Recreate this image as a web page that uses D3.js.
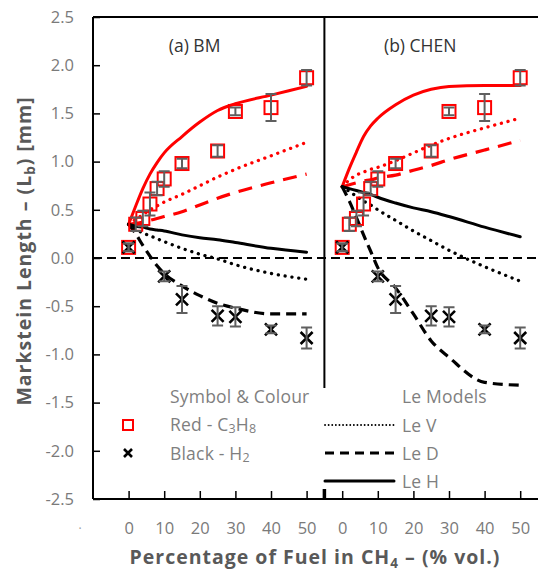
<!DOCTYPE html>
<html><head><meta charset="utf-8">
<script src="https://cdn.jsdelivr.net/npm/d3@7"></script>
<style>body{margin:0;background:#fff}</style>
</head><body><svg id="c" width="538" height="576"></svg>
<script>
// ---- data ----
const modelX = [0, 2, 4, 6, 8, 10, 15, 20, 25, 30, 40, 50];
// Panel (a) BM
const bmRedLeH   = [0.35, 0.54, 0.72, 0.87, 0.99, 1.09, 1.26, 1.41, 1.53, 1.60, 1.69, 1.78];
const bmRedLeV   = [0.35, 0.40, 0.45, 0.50, 0.54, 0.58, 0.66, 0.75, 0.84, 0.92, 1.06, 1.20];
const bmRedLeD   = [0.35, 0.36, 0.37, 0.39, 0.41, 0.43, 0.48, 0.55, 0.62, 0.68, 0.78, 0.87];
const bmBlackLeH = [0.35, 0.33, 0.32, 0.30, 0.29, 0.28, 0.24, 0.21, 0.19, 0.16, 0.10, 0.06];
const bmBlackLeV = [0.35, 0.30, 0.26, 0.23, 0.20, 0.17, 0.10, 0.04, -0.01, -0.07, -0.16, -0.22];
const bmBlackLeD = [0.35, 0.25, 0.13, 0.02, -0.08, -0.16, -0.29, -0.39, -0.47, -0.52, -0.58, -0.58];
// Panel (b) CHEN
const chRedLeH   = [0.74, 0.93, 1.10, 1.26, 1.37, 1.45, 1.59, 1.69, 1.75, 1.78, 1.79, 1.79];
const chRedLeV   = [0.74, 0.81, 0.86, 0.89, 0.92, 0.94, 1.01, 1.09, 1.17, 1.24, 1.35, 1.45];
const chRedLeD   = [0.74, 0.76, 0.78, 0.80, 0.81, 0.83, 0.86, 0.91, 0.96, 1.02, 1.12, 1.22];
const chBlackLeH = [0.74, 0.72, 0.70, 0.68, 0.66, 0.63, 0.57, 0.52, 0.48, 0.43, 0.32, 0.22];
const chBlackLeV = [0.74, 0.69, 0.64, 0.59, 0.55, 0.50, 0.39, 0.28, 0.18, 0.08, -0.09, -0.24];
const chBlackLeD = [0.74, 0.59, 0.42, 0.24, 0.07, -0.10, -0.31, -0.58, -0.86, -1.03, -1.29, -1.32];
// Experiments (same in both panels)
const c3h8X   = [0, 2, 4, 6, 8, 10, 15, 25, 30, 40, 50];
const c3h8L   = [0.11, 0.35, 0.41, 0.56, 0.72, 0.82, 0.98, 1.11, 1.52, 1.56, 1.87];
const c3h8Err = [0.04, 0.07, 0.08, 0.12, 0.07, 0.08, 0.05, 0.06, 0.04, 0.14, 0.08];
const h2X     = [0, 10, 15, 25, 30, 40, 50];
const h2L     = [0.11, -0.19, -0.43, -0.60, -0.61, -0.74, -0.83];
const h2Err   = [0.04, 0.05, 0.14, 0.10, 0.10, 0.04, 0.11];
// Axes
const xTickValues = [0, 10, 20, 30, 40, 50];
const yTickValues = [-2.5, -2.0, -1.5, -1.0, -0.5, 0.0, 0.5, 1.0, 1.5, 2.0, 2.5];
const panelTitles = ["(a) BM", "(b) CHEN"];

// ---- layout ----
const svg = d3.select("#c");
const FONT = "'Open Sans', Lato, sans-serif";
const L = 93, R = 538, T = 17, B = 499;
const x = d3.scaleLinear().domain([-10, 115]).range([L, R]);
const y = d3.scaleLinear().domain([-2.5, 2.5]).range([B, T]);
const panelOffset = [0, 60];
const dividerX = x(55);

svg.append("rect").attr("width", 538).attr("height", 576).attr("fill", "#fff");

// zero line
svg.append("line").attr("x1", L).attr("x2", R).attr("y1", y(0)).attr("y2", y(0))
  .attr("stroke", "#000").attr("stroke-width", 2).attr("stroke-dasharray", "9,5");

// frame
svg.append("line").attr("x1", L).attr("x2", R).attr("y1", T).attr("y2", T).attr("stroke", "#000").attr("stroke-width", 2);
svg.append("line").attr("x1", L).attr("x2", L).attr("y1", T).attr("y2", B).attr("stroke", "#000").attr("stroke-width", 2);
svg.append("line").attr("x1", L).attr("x2", R).attr("y1", B).attr("y2", B).attr("stroke", "#000").attr("stroke-width", 2);
svg.append("line").attr("x1", dividerX).attr("x2", dividerX).attr("y1", T).attr("y2", 388).attr("stroke", "#000").attr("stroke-width", 2);
svg.append("line").attr("x1", dividerX).attr("x2", dividerX).attr("y1", 489).attr("y2", B).attr("stroke", "#000").attr("stroke-width", 3.5);

// y axis ticks and labels
const yAx = svg.append("g").attr("transform", `translate(${L},0)`)
  .call(d3.axisLeft(y).tickValues(yTickValues).tickSize(-7).tickPadding(19)
    .tickFormat(d => d.toFixed(1)));
yAx.select(".domain").remove();
yAx.selectAll(".tick line").attr("stroke", "#000").attr("stroke-width", 1.5);
yAx.selectAll("text").attr("font-family", FONT).attr("font-size", 16.5).attr("fill", "#7a7a7a");

// x axis ticks/labels for each panel
panelOffset.forEach((off, i) => {
  const xs = d3.scaleLinear().domain(x.domain().map(v => v - off)).range(x.range());
  const g = svg.append("g").attr("transform", `translate(0,${B})`)
    .call(d3.axisBottom(xs).tickValues(xTickValues).tickSize(-8).tickPadding(23).tickFormat(d3.format("d")));
  g.select(".domain").remove();
  g.selectAll(".tick line").attr("stroke", "#000").attr("stroke-width", 1.5);
  g.selectAll("text").attr("font-family", FONT).attr("font-size", 16.5).attr("fill", "#7a7a7a");
  svg.append("text").attr("x", xs(0) + (i === 0 ? 66 : 78)).attr("y", 52)
    .attr("text-anchor", "middle").attr("font-family", FONT).attr("font-size", 17.5)
    .attr("fill", "#333").text(panelTitles[i]);
});
svg.append("text").attr("x", 80).attr("y", 533).attr("font-family", FONT).attr("font-size", 12)
  .attr("fill", "#999").attr("text-anchor", "middle").text("·");

// ---- series ----
const models = [
  {off: 0, vals: bmRedLeH, color: "#ff0000", kind: "H"},
  {off: 0, vals: bmRedLeV, color: "#ff0000", kind: "V"},
  {off: 0, vals: bmRedLeD, color: "#ff0000", kind: "D"},
  {off: 0, vals: bmBlackLeH, color: "#000", kind: "H"},
  {off: 0, vals: bmBlackLeV, color: "#000", kind: "V"},
  {off: 0, vals: bmBlackLeD, color: "#000", kind: "D"},
  {off: 60, vals: chRedLeH, color: "#ff0000", kind: "H"},
  {off: 60, vals: chRedLeV, color: "#ff0000", kind: "V"},
  {off: 60, vals: chRedLeD, color: "#ff0000", kind: "D"},
  {off: 60, vals: chBlackLeH, color: "#000", kind: "H"},
  {off: 60, vals: chBlackLeV, color: "#000", kind: "V"},
  {off: 60, vals: chBlackLeD, color: "#000", kind: "D"}
];
function styleLine(sel, kind, color) {
  sel.attr("fill", "none").attr("stroke", color);
  if (kind === "H") sel.attr("stroke-width", 3).attr("stroke-linecap", "round");
  if (kind === "V") sel.attr("stroke-width", 3.3).attr("stroke-linecap", "round").attr("stroke-dasharray", "0.1,6.8");
  if (kind === "D") sel.attr("stroke-width", 3.2).attr("stroke-dasharray", color === "#000" ? "10,6" : "14,9");
  return sel;
}
models.forEach(m => {
  const line = d3.line().x((d, i) => x(modelX[i] + m.off)).y(d => y(d)).curve(d3.curveMonotoneX);
  styleLine(svg.append("path").attr("d", line(m.vals)), m.kind, m.color);
});

panelOffset.forEach(off => {
  // red squares
  c3h8X.forEach((xv, i) => {
    svg.append("rect").attr("x", x(xv + off) - 6.5).attr("y", y(c3h8L[i]) - 6.5)
      .attr("width", 13).attr("height", 13).attr("fill", "none")
      .attr("stroke", "#ff0000").attr("stroke-width", 2);
  });
  // black crosses
  h2X.forEach((xv, i) => {
    const cx = x(xv + off), cy = y(h2L[i]), s = 6;
    svg.append("path").attr("d", `M${cx - s},${cy - s}L${cx + s},${cy + s}M${cx - s},${cy + s}L${cx + s},${cy - s}`)
      .attr("stroke", "#000").attr("stroke-width", 2.6).attr("fill", "none");
  });
  // error bars
  const errs = c3h8X.map((xv, i) => [xv, c3h8L[i], c3h8Err[i]])
    .concat(h2X.map((xv, i) => [xv, h2L[i], h2Err[i]]));
  errs.forEach(([xv, v, e]) => {
    const cx = x(xv + off), y1 = y(v + e), y2 = y(v - e);
    svg.append("path").attr("d", `M${cx},${y1}V${y2}M${cx - 5.5},${y1}H${cx + 5.5}M${cx - 5.5},${y2}H${cx + 5.5}`)
      .attr("stroke", "#5f5f5f").attr("stroke-width", 2).attr("fill", "none");
  });
});

// ---- legend ----
const legFill = "#7f7f7f";
function legText(xp, yp, parts) {
  const t = svg.append("text").attr("x", xp).attr("y", yp).attr("font-family", FONT)
    .attr("font-size", 17.5).attr("letter-spacing", 0.2).attr("fill", legFill);
  parts.forEach(p => {
    if (typeof p === "string") t.append("tspan").text(p);
    else t.append("tspan").attr("font-size", p.fs || 12.5).attr("dy", p.dy).text(p.t);
  });
  return t;
}
legText(170, 403, ["Symbol & Colour"]);
svg.append("rect").attr("x", 123).attr("y", 420).attr("width", 10).attr("height", 10)
  .attr("fill", "none").attr("stroke", "#ff0000").attr("stroke-width", 2);
legText(170, 431, ["Red - C", {t: "3", dy: 2}, {t: "H", dy: -2, fs: 17.5}, {t: "8", dy: 2}]);
svg.append("path").attr("d", "M124,449L132,457M124,457L132,449").attr("stroke", "#000").attr("stroke-width", 2.6);
legText(170, 460, ["Black - H", {t: "2", dy: 2}]);

legText(402, 403, ["Le Models"]);
[["V", 425], ["D", 453], ["H", 481]].forEach(([k, yy]) => {
  const p = svg.append("path").attr("d", `M325,${yy}H394`);
  styleLine(p, k, "#000");
  if (k === "V") p.attr("stroke-width", 1.8).attr("stroke-dasharray", "0.1,3.5");
  if (k === "D") p.attr("stroke-dasharray", "9,6");
  legText(402, yy + 7, ["Le " + k]);
});

// ---- axis titles ----
const yt = svg.append("text").attr("transform", `translate(31,251) rotate(-90)`)
  .attr("text-anchor", "middle").attr("font-family", FONT).attr("font-size", 19.5)
  .attr("letter-spacing", 1).attr("font-weight", "bold").attr("fill", "#595959");
yt.append("tspan").text("Markstein Length – (L");
yt.append("tspan").attr("font-size", 13.5).attr("dy", 4).text("b");
yt.append("tspan").attr("dy", -4).text(") [mm]");

const xt = svg.append("text").attr("x", 315).attr("y", 564)
  .attr("text-anchor", "middle").attr("font-family", FONT).attr("font-size", 19.5)
  .attr("letter-spacing", 1).attr("font-weight", "bold").attr("fill", "#595959");
xt.append("tspan").text("Percentage of Fuel in CH");
xt.append("tspan").attr("font-size", 13.5).attr("dy", 4).text("4");
xt.append("tspan").attr("dy", -4).text(" – (% vol.)");
</script>
</body></html>
